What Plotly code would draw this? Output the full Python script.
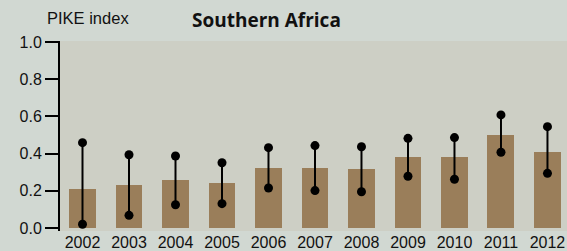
import plotly.graph_objects as go

years = ["2002", "2003", "2004", "2005", "2006", "2007", "2008", "2009", "2010", "2011", "2012"]
pike = [0.21, 0.231, 0.258, 0.244, 0.323, 0.323, 0.317, 0.382, 0.382, 0.50, 0.409]
upper = [0.459, 0.394, 0.387, 0.351, 0.432, 0.443, 0.437, 0.482, 0.486, 0.608, 0.545]
lower = [0.02, 0.068, 0.125, 0.131, 0.215, 0.201, 0.195, 0.278, 0.262, 0.407, 0.294]
y_ticks = [0.0, 0.2, 0.4, 0.6, 0.8, 1.0]

idx = list(range(len(years)))

fig = go.Figure()
fig.add_trace(go.Bar(x=idx, y=pike, width=0.58, marker=dict(color="#9a7e5a", line=dict(width=0)),
                     showlegend=False, hoverinfo="skip"))

lx, ly = [], []
for i, lo, hi in zip(idx, lower, upper):
    lx += [i, i, None]
    ly += [lo, hi, None]
fig.add_trace(go.Scatter(x=lx, y=ly, mode="lines+markers",
                         line=dict(color="black", width=2),
                         marker=dict(color="black", size=9),
                         showlegend=False, connectgaps=False, hoverinfo="skip"))

fig.update_layout(
    width=567, height=251,
    margin=dict(l=60, r=0, t=41, b=20),
    paper_bgcolor="#d1d8d2",
    plot_bgcolor="#cdcfc5",
    font=dict(family="Liberation Sans, Arial, sans-serif", color="#111111", size=16),
    bargap=0,
    xaxis=dict(range=[-0.484, 10.42], tickvals=idx, ticktext=years, showgrid=False,
               zeroline=False, showline=False, ticks="", tickfont=dict(size=16)),
    yaxis=dict(range=[-0.0054, 1.0054], tickvals=y_ticks, ticktext=[f"{v:.1f}" for v in y_ticks],
               showgrid=False, zeroline=False, showline=True, linecolor="black", linewidth=2,
               ticks="outside", ticklen=13, tickwidth=2, tickcolor="black",
               tickfont=dict(size=16)),
    annotations=[
        dict(text="PIKE index", xref="paper", yref="paper", x=(45 - 60) / 507, y=(231 - 18) / 190,
             xanchor="left", yanchor="middle", showarrow=False,
             font=dict(size=16.5, family="Liberation Sans, Arial, sans-serif", color="#111111")),
        dict(text="<b>Southern Africa</b>", xref="paper", yref="paper", x=(266 - 60) / 507,
             y=(231 - 20) / 190, xanchor="center", yanchor="middle", showarrow=False,
             font=dict(size=19, family="Open Sans, sans-serif", color="#111111")),
    ],
)
# keep y mapping: plot spans 41..231 px, 0 at 228 and 1 at 42
fig.update_yaxes(range=[-3 / 186, 1 + 1 / 186])

fig.write_html(
    "out.html",
    config={"displayModeBar": False},
    post_script="document.body.style.margin='0';document.body.style.padding='0';"
                "document.body.style.background='#d1d8d2';document.body.style.overflow='hidden';",
)
